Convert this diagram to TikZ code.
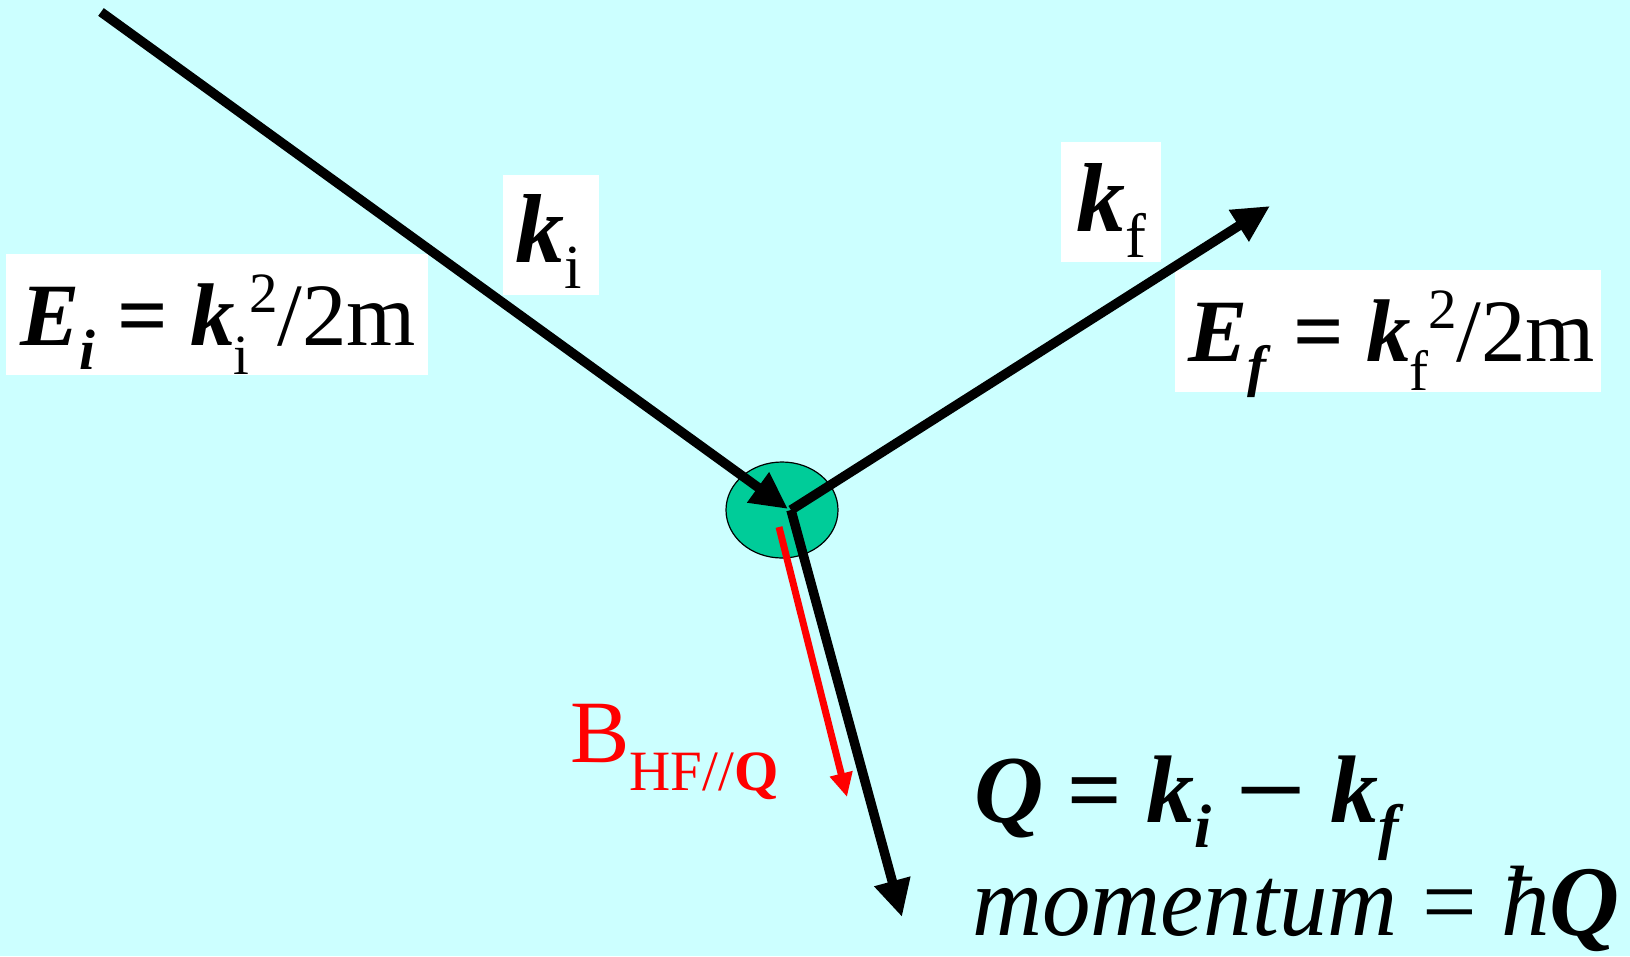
\documentclass[tikz,border=0pt]{standalone}
\usepackage{fontspec}
\setmainfont{Liberation Serif}
\usetikzlibrary{arrows.meta, positioning, shapes.geometric}

\definecolor{bgcyan}{HTML}{CCFFFF}
\definecolor{blobgreen}{HTML}{00CC99}

\makeatletter
\newcommand{\bvec}[1]{\textbf{\textit{#1}}}
\newcommand{\lo}[2][0.27em]{\raisebox{-#1}{\fontsize{\fpeval{0.64*\f@size}}{0}\selectfont #2}}
\newcommand{\hi}[1]{\raisebox{0.36em}{\fontsize{\fpeval{0.64*\f@size}}{0}\selectfont #1}}
\makeatother
\newcommand{\fsz}[1]{\fontsize{#1}{#1}\selectfont}

\begin{document}
\begin{tikzpicture}[
    x=1pt, y=-1pt,
    font=\fsz{89},
    wbox/.style={fill=white, inner sep=0pt},
    txt/.style={anchor=base west, inner sep=0pt},
    arr/.style={-{Triangle[length=37pt,width=35pt]}, line width=9.5pt, draw=black},
    barr/.style={-{Triangle[length=24pt,width=22pt]}, line width=7pt, draw=red}
]

\fill[bgcyan] (0,0) rectangle (1630,956);
\useasboundingbox (0,0) rectangle (1630,956);

% scattering centre
\node[ellipse, draw=black, line width=1.2pt, fill=blobgreen, minimum width=112pt, minimum height=96pt] (scat) at (782,510) {};

\coordinate (src) at (101,12);
\coordinate (hit) at (788,509);
\coordinate (vtx) at (791,510);
\coordinate (kfEnd) at (1270,206);
\coordinate (qEnd) at (902,917);
\coordinate (bStart) at (779,527);
\coordinate (bEnd) at (847,797);

% label boxes
\node[wbox, minimum width=422pt, minimum height=121pt] (EiBox) at (217,314.5) {};
\node[wbox, minimum width=96pt, minimum height=120pt] (kiBox) at (551,235) {};
\node[wbox, minimum width=100pt, minimum height=120pt] (kfBox) at (1111,202) {};
\node[wbox, minimum width=426pt, minimum height=122pt] (EfBox) at (1388,331) {};

\draw[arr] (src) -- (hit);
\draw[arr] (vtx) -- (kfEnd);
\draw[arr] (vtx) -- (qEnd);
\draw[barr] (bStart) -- (bEnd);

\node[txt] (Ei) at (20,345) {\bvec{E}\lo{\bvec{i}} \textbf{=} \bvec{k}\kern-0.02em\lo[0.33em]{i}\hi{2}/2m};
\node[txt, font=\fsz{98}] (ki) at (515,262) {\bvec{k}\lo{i}};
\node[txt, font=\fsz{98}] (kf) at (1076,231) {\bvec{k}\lo{f}};
\node[txt] (Ef) at (1188,361) {\bvec{E}\lo{\bvec{f}} \textbf{=} \bvec{k}\kern-0.02em\lo[0.33em]{f}\hi{2}/2m};

\node[txt, text=red] (bhf) at (570,762) {B\lo[0.32em]{\fsz{57}HF//\textbf{Q}}};

\node[txt, font=\fsz{96}] (qdef) at (974,822) {\bvec{Q} \textbf{=} \bvec{k}\lo{\bvec{i}} \scalebox{1.3}[1]{\textbf{\char"2212}} \bvec{k}\lo{\bvec{f}}};
\node[txt, font=\fsz{100}] (mom) at (972,935) {\scalebox{0.97}[1]{\textit{momentum} = \textit{ħ}\bvec{Q}}};
\end{tikzpicture}
\end{document}
